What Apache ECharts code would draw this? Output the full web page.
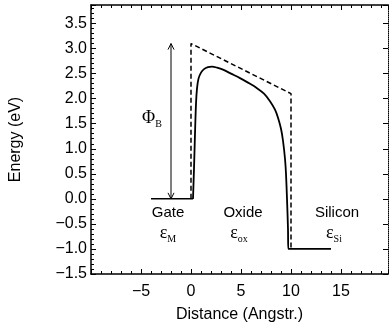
<!DOCTYPE html>
<html>
<head>
<meta charset="utf-8">
<script src="https://cdn.jsdelivr.net/npm/echarts@6/dist/echarts.min.js"></script>
<style>
  html, body { margin: 0; padding: 0; background: #fff; }
  #container { width: 389px; height: 329px; }
</style>
</head>
<body>
<div id="container"></div>
<script>
// band edges (dashed) and the real barrier (solid)
let dashedX = [0, 0, 10, 10];
let dashedY = [0, 3.1, 2.1, -1];
let gateX = [-4, 0.2];
let gateY = [0, 0];
let barrierX = [0.2, 0.3, 0.4, 0.5, 0.6, 0.75, 1.0, 1.3, 1.7, 2.1, 2.6, 3.2, 4.0, 4.9, 5.7, 6.6, 7.3, 7.9, 8.4, 8.7, 9.0, 9.2, 9.4, 9.5, 9.6, 9.7, 9.73, 14];
let barrierY = [0, 0.6, 1.3, 1.9, 2.2, 2.4, 2.52, 2.59, 2.63, 2.64, 2.62, 2.58, 2.5, 2.41, 2.32, 2.21, 2.1, 1.95, 1.78, 1.62, 1.4, 1.16, 0.8, 0.5, 0, -0.6, -1, -1];
let arrowX = [-2, -2];
let arrowY = [0, 3.1];
// annotations
let noteX = [-3.9, -2.3, -2.3, 5.2, 4.8, 14.6, 14.3];
let noteY = [1.6, -0.28, -0.68, -0.28, -0.68, -0.28, -0.68];
let noteText = ['{e|Φ}{s|B}', '{t|Gate}', '{e|ε}{s|M}', '{t|Oxide}', '{e|ε}{s|ox}', '{t|Silicon}', '{e|ε}{s|Si}'];

let dom = document.getElementById('container');
let myChart = echarts.init(dom);

function pairs(xs, ys) {
    return xs.map(function (x, i) { return [x, ys[i]]; });
}
function minus(v) {
    return String(v).replace('-', '\u2212');
}

let tickStyle = { inside: true, length: 5, lineStyle: { color: '#000' } };
let minorStyle = { show: true, splitNumber: 5, length: 3, lineStyle: { color: '#000' } };
let rich = {
    t: { fontFamily: 'Liberation Sans', fontSize: 15, color: '#000', lineHeight: 16 },
    e: { fontFamily: 'Liberation Serif', fontSize: 18, color: '#000', lineHeight: 16 },
    s: { fontFamily: 'Liberation Serif', fontSize: 10, color: '#000', verticalAlign: 'bottom', lineHeight: 16, padding: [0, 0, -3, 0] }
};

option = {
    animation: false,
    grid: { left: 91, right: 1, top: 5, bottom: 55 },
    xAxis: [{
        type: 'value', min: -10, max: 19.7, interval: 5,
        name: 'Distance (Angstr.)', nameLocation: 'middle', nameGap: 33,
        nameTextStyle: { fontFamily: 'Liberation Sans', fontSize: 16, color: '#000' },
        axisLine: { onZero: false, lineStyle: { color: '#000', width: 1.5 } },
        axisTick: tickStyle, minorTick: minorStyle,
        splitLine: { show: false },
        axisLabel: {
            margin: 10, fontFamily: 'Liberation Sans', fontSize: 16, color: '#000',
            showMaxLabel: false,
            formatter: function (v) { return v === -10 || v > 19 ? '' : minus(v); }
        }
    }, {
        type: 'value', min: -10, max: 19.7, interval: 5, position: 'top',
        axisLine: { onZero: false, lineStyle: { color: '#000', width: 1.5 } },
        axisTick: tickStyle, minorTick: minorStyle,
        splitLine: { show: false }, axisLabel: { show: false }
    }],
    yAxis: [{
        type: 'value', min: -1.5, max: 3.87, interval: 0.5,
        name: 'Energy (eV)', nameLocation: 'middle', nameGap: 67,
        nameTextStyle: { fontFamily: 'Liberation Sans', fontSize: 16, color: '#000' },
        axisLine: { show: true, onZero: false, lineStyle: { color: '#000', width: 1.5 } },
        axisTick: tickStyle, minorTick: minorStyle,
        splitLine: { show: false },
        axisLabel: {
            margin: 4, fontFamily: 'Liberation Sans', fontSize: 16, color: '#000',
            showMaxLabel: false,
            formatter: function (v) { return v > 3.6 ? '' : minus((Math.round(v * 10) / 10).toFixed(1)); }
        }
    }, {
        type: 'value', min: -1.5, max: 3.87, interval: 0.5, position: 'right',
        axisLine: { show: true, onZero: false, lineStyle: { color: '#000', width: 1, type: 'dotted' } },
        axisTick: tickStyle, minorTick: { show: false },
        splitLine: { show: false }, axisLabel: { show: false }
    }],
    series: [
        {
            type: 'line', data: pairs(dashedX, dashedY), showSymbol: false,
            lineStyle: { color: '#000', width: 1.5, type: [5, 3] }
        },
        {
            type: 'line', data: pairs(gateX, gateY), showSymbol: false,
            lineStyle: { color: '#000', width: 1.5 }
        },
        {
            type: 'line', data: pairs(barrierX, barrierY), showSymbol: false, smooth: 0.3,
            lineStyle: { color: '#000', width: 1.8 }
        },
        {
            type: 'line', lineStyle: { color: '#000', width: 1 },
            data: pairs(arrowX, arrowY).map(function (p, i) {
                return {
                    value: p,
                    symbol: 'path://M0,10 L5,0 L10,10',
                    symbolSize: [6, 6],
                    symbolRotate: i === 0 ? 180 : 0,
                    symbolOffset: [0, i === 0 ? -3 : 3]
                };
            }),
            itemStyle: { color: 'none', borderColor: '#000', borderWidth: 1 }
        },
        {
            type: 'scatter', symbolSize: 0, silent: true,
            itemStyle: { opacity: 1, color: '#000' },
            data: pairs(noteX, noteY).map(function (p, i) {
                return {
                    value: p,
                    label: { show: true, position: 'inside', formatter: noteText[i], rich: rich, opacity: 1 }
                };
            })
        }
    ]
};
if (option && typeof option === "object") {
    myChart.setOption(option, true);
}
</script>
</body>
</html>
